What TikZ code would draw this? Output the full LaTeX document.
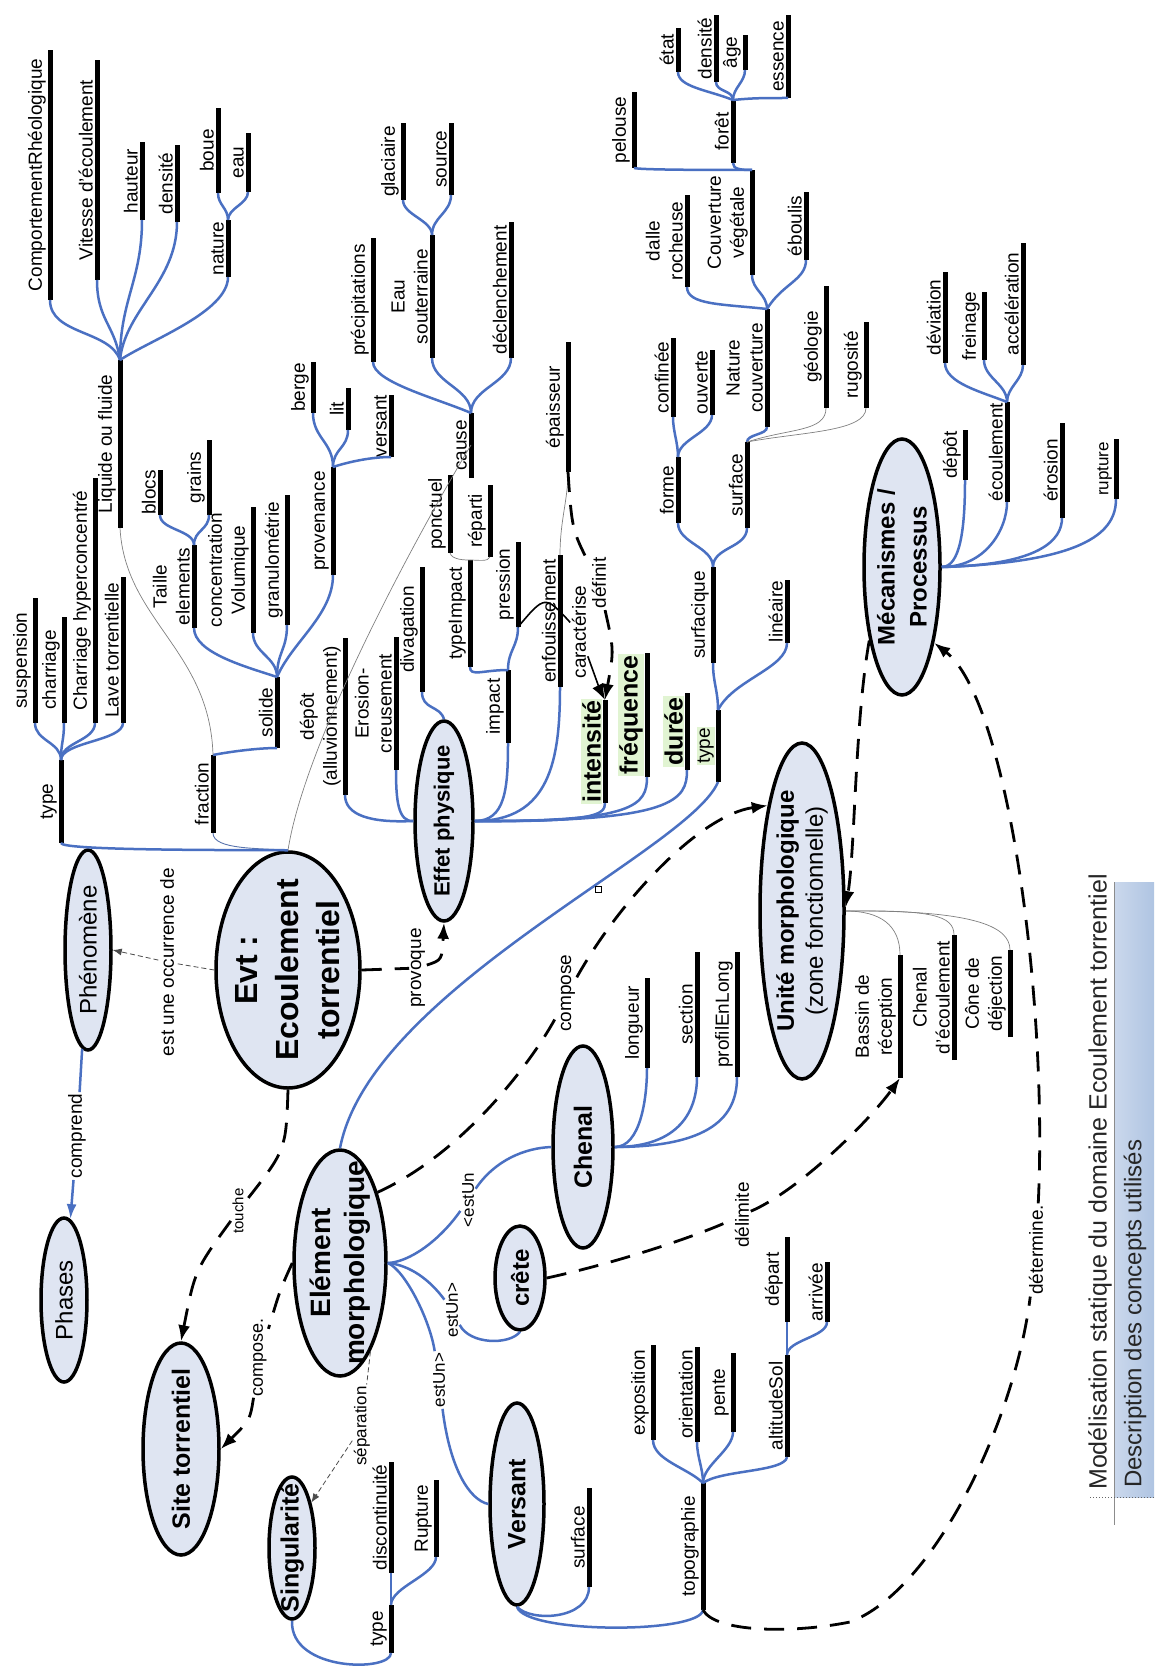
\documentclass[tikz,border=0pt]{standalone}
\usepackage{fontspec}
\setmainfont{Liberation Sans}
\usepackage{graphicx}
\usetikzlibrary{shapes.geometric,arrows.meta,calc}
\definecolor{blu}{HTML}{4A70C2}
\definecolor{nfill}{HTML}{DFE5F2}
\definecolor{gbg}{HTML}{E1F4D2}
\definecolor{boxl}{HTML}{CBD8EC}
\definecolor{boxr}{HTML}{AFC4E2}
\tikzset{
 bl/.style={draw=blu, line width=2.5pt},
 thn/.style={draw=black!50, line width=0.7pt},
 thb/.style={draw=blu!70!gray, line width=0.9pt},
 attrbar/.style={line width=5pt, draw=black},
 attrtxt/.style={rotate=90, anchor=south, inner sep=1pt, align=center, font=\fontsize{19}{23}\selectfont},
 gtxt/.style={fill=gbg, font=\bfseries\fontsize{25}{28}\selectfont},
 concept/.style={ellipse, draw=black, line width=3.5pt, fill=nfill, inner sep=0pt},
 ctext/.style={rotate=90, align=center, inner sep=0pt},
 dsh/.style={draw=black, line width=2.8pt, dash pattern=on 20pt off 13pt},
 tdsh/.style={draw=black!70, line width=0.8pt, dash pattern=on 5pt off 3pt},
 blkl/.style={draw=black, line width=1.6pt},
 arr/.style={-{Latex[length=16pt,width=12pt]}},
 sarr/.style={-{Latex[length=9pt,width=7pt]}},
 lab/.style={rotate=90, fill=white, inner sep=1.5pt, font=\fontsize{19}{22}\selectfont},
}
\newcommand\attrib[6][]{%
 \coordinate (#2-b) at (#3,#4);
 \coordinate (#2-t) at (#3,#5);
 \draw[attrbar] (#2-b) -- (#2-t);
 \node[attrtxt,#1] (#2) at ({#3-3},{(#4+#5)/2}) {#6};}
\newcommand\brc[3]{\draw[bl] (#1) .. controls ($(#1)+(0,-#3)$) and ($(#2)+(0,#3)$) .. (#2);}
\newcommand\brx[4]{\draw[bl] (#1) .. controls ($(#1)+(#3)$) and ($(#2)+(#4)$) .. (#2);}
\begin{document}
\begin{tikzpicture}[x=1pt,y=-1pt]
\useasboundingbox (0,0) rectangle (1154,1672);
\fill[white] (0,0) rectangle (1154,1672);

% ---------- concepts ----------
\node[concept, minimum width=144, minimum height=236] (evt) at (288,970) {};
\node[ctext, font=\bfseries\fontsize{32}{41}\selectfont] (evt-l) at (evt) {Evt :\\Ecoulement\\torrentiel};
\node[concept, minimum width=46, minimum height=200] (ph) at (88,950) {};
\node[ctext, font=\fontsize{24}{28}\selectfont] (ph-l) at (ph) {Phénomène};
\node[concept, minimum width=46, minimum height=164] (pa) at (64,1300) {};
\node[ctext, font=\fontsize{24}{28}\selectfont] (pa-l) at (pa) {Phases};
\node[concept, minimum width=58, minimum height=200] (ep) at (444,821) {};
\node[ctext, font=\bfseries\fontsize{22}{26}\selectfont] (ep-l) at (ep) {Effet physique};
\node[concept, minimum width=76, minimum height=256] (mp) at (902,567) {};
\node[ctext, font=\bfseries\fontsize{24}{32}\selectfont] (mp-l) at (mp) {Mécanismes /\\Processus};
\node[concept, minimum width=84, minimum height=336] (um) at (802,911) {};
\node[ctext, font=\fontsize{24}{29}\selectfont] (um-l) at (um) {\textbf{Unité morphologique}\\(zone fonctionnelle)};
\node[concept, minimum width=92, minimum height=226] (em) at (340,1263) {};
\node[ctext, font=\bfseries\fontsize{28}{34}\selectfont] (em-l) at (em) {Elément\\morphologique};
\node[concept, minimum width=60, minimum height=202] (ch) at (583,1147) {};
\node[ctext, font=\bfseries\fontsize{25}{28}\selectfont] (ch-l) at (ch) {Chenal};
\node[concept, minimum width=50, minimum height=104] (cr) at (520,1278) {};
\node[ctext, font=\bfseries\fontsize{24}{28}\selectfont] (cr-l) at (cr) {crête};
\node[concept, minimum width=54, minimum height=202] (vs) at (517,1504) {};
\node[ctext, font=\bfseries\fontsize{25}{28}\selectfont] (vs-l) at (vs) {Versant};
\node[concept, minimum width=76, minimum height=212] (st) at (181,1449) {};
\node[ctext, font=\bfseries\fontsize{25}{28}\selectfont] (st-l) at (st) {Site torrentiel};
\node[concept, minimum width=46, minimum height=142] (sg) at (292,1548) {};
\node[ctext, font=\bfseries\fontsize{25}{28}\selectfont] (sg-l) at (sg) {Singularité};

% ---------- attributes ----------
\attrib{LOF}{120}{528}{360}{Liquide ou fluide}
\attrib{CR}{50}{300}{50}{ComportementRhéologique}
\attrib{VE}{97}{280}{60}{Vitesse d'écoulement}
\attrib{HA}{142}{220}{142}{hauteur}
\attrib{DE}{177}{222}{145}{densité}
\attrib{NA}{228}{277}{220}{nature}
\attrib{BO}{218}{193}{108}{boue}
\attrib{EA}{248}{192}{133}{eau}
\attrib{TYa}{61}{843}{760}{type}
\attrib{SU}{35}{723}{598}{suspension}
\attrib{CH}{64}{723}{617}{charriage}
\attrib{CHY}{95}{723}{478}{Charriage hyperconcentré}
\attrib{LT}{123}{723}{577}{Lave torrentielle}
\attrib{FR}{213}{833}{755}{fraction}
\attrib{SO}{277}{748}{677}{solide}
\attrib{TE}{194}{628}{545}{Taille\\elements}
\attrib{BL}{160}{515}{470}{blocs}
\attrib{GR}{209}{515}{440}{grains}
\attrib{CV}{253}{633}{507}{concentration\\Volumique}
\attrib{GM}{287}{625}{495}{granulométrie}
\attrib{PR}{333}{575}{467}{provenance}
\attrib{BE}{313}{413}{362}{berge}
\attrib{LI}{348}{430}{388}{lit}
\attrib{VS}{391}{457}{395}{versant}
\attrib{CA}{471}{478}{413}{cause}
\attrib{PC}{373}{362}{238}{précipitations}
\attrib{ES}{432}{358}{235}{Eau\\souterraine}
\attrib{DC}{511}{358}{222}{déclenchement}
\attrib{GL}{403}{200}{123}{glaciaire}
\attrib{SR}{451}{195}{123}{source}
\attrib{DP}{345}{795}{638}{dépôt\\(alluvionnement)}
\attrib{ER}{396}{770}{637}{Erosion-\\creusement}
\attrib{DV}{422}{692}{567}{divagation}
\attrib{IM}{508}{743}{670}{impact}
\attrib{TI}{470}{667}{560}{typeImpact}
\attrib{PS}{518}{627}{542}{pression}
\attrib{PO}{450}{553}{475}{ponctuel}
\attrib{RE}{490}{557}{485}{réparti}
\attrib{EN}{560}{687}{555}{enfouissement}
\attrib{EP}{568}{472}{342}{épaisseur}
\attrib[gtxt]{IN}{605}{803}{700}{intensité}
\attrib[gtxt]{FQ}{647}{777}{653}{fréquence}
\attrib[gtxt]{DU}{687}{770}{693}{durée}
\attrib{MD}{965}{480}{430}{dépôt}
\attrib{MEC}{1007}{502}{402}{écoulement}
\attrib{MER}{1062}{518}{423}{érosion}
\attrib[font=\fontsize{17}{20}\selectfont]{MRU}{1116}{499}{439}{rupture}
\attrib{MDV}{945}{363}{272}{déviation}
\attrib{MFR}{984}{360}{292}{freinage}
\attrib{MAC}{1023}{365}{243}{accélération}
\attrib[fill=gbg]{TYb}{718}{782}{710}{type}
\attrib{SF}{713}{663}{567}{surfacique}
\attrib{LN}{787}{643}{580}{linéaire}
\attrib{FO}{678}{523}{457}{forme}
\attrib{SUa}{747}{528}{442}{surface}
\attrib{CF}{673}{417}{338}{confinée}
\attrib{OU}{712}{415}{350}{ouverte}
\attrib{NC}{767}{427}{309}{Nature\\couverture}
\attrib{DR}{687}{287}{195}{dalle\\rocheuse}
\attrib{CVG}{752}{275}{170}{Couverture\\végétale}
\attrib{EB}{806}{260}{192}{éboulis}
\attrib{GEO}{826}{408}{286}{géologie}
\attrib{RUG}{866}{408}{322}{rugosité}
\attrib{PE}{634}{168}{92}{pelouse}
\attrib{FOR}{733}{163}{100}{forêt}
\attrib{ET}{678}{72}{28}{état}
\attrib{DNb}{716}{82}{15}{densité}
\attrib{AG}{745}{70}{35}{âge}
\attrib{ESS}{788}{98}{15}{essence}
\attrib{LG}{647}{1068}{978}{longueur}
\attrib{SE}{697}{1077}{952}{section}
\attrib{PL}{737}{1077}{952}{profilEnLong}
\attrib{BR}{900}{1078}{955}{Bassin de\\réception}
\attrib{CE}{954}{1060}{935}{Chenal\\d'écoulement}
\attrib{CD}{1010}{1037}{950}{Cône de\\déjection}
\attrib{VSU}{589}{1587}{1488}{surface}
\attrib{TO}{703}{1610}{1483}{topographie}
\attrib{EX}{653}{1440}{1345}{exposition}
\attrib{OR}{697}{1442}{1347}{orientation}
\attrib{PN}{733}{1432}{1353}{pente}
\attrib{AS}{787}{1457}{1355}{altitudeSol}
\attrib{DEP}{787}{1322}{1237}{départ}
\attrib{AR}{827}{1322}{1262}{arrivée}
\attrib{SGT}{391}{1653}{1605}{type}
\attrib{DI}{391}{1573}{1462}{discontinuité}
\attrib{RU}{436}{1557}{1480}{Rupture}

% ---------- attribute connectors ----------
\brx{LOF-t}{CR-b}{-10,-30}{0,35}
\brx{LOF-t}{VE-b}{-5,-35}{0,40}
\brx{LOF-t}{HA-b}{0,-60}{0,60}
\brx{LOF-t}{DE-b}{5,-50}{0,60}
\brx{LOF-t}{NA-b}{30,-20}{0,35}
\brc{NA-t}{BO-b}{12}
\brc{NA-t}{EA-b}{12}
\brc{TYa-t}{SU-b}{18}
\brc{TYa-t}{CH-b}{18}
\brc{TYa-t}{CHY-b}{18}
\brc{TYa-t}{LT-b}{18}
\brx{SO-t}{TE-b}{-30,-10}{0,25}
\brc{SO-t}{CV-b}{20}
\brc{SO-t}{GM-b}{25}
\brx{SO-t}{PR-b}{15,-35}{0,40}
\brc{TE-t}{BL-b}{15}
\brc{TE-t}{GR-b}{15}
\brc{PR-t}{BE-b}{25}
\brc{PR-t}{LI-b}{18}
\brx{PR-t}{VS-b}{15,-5}{-20,0}
\brx{FR-t}{SO-b}{15,-3}{-20,0}
\draw[thn] (LOF-b) .. controls (125,620) and (210,650) .. (FR-t);
\draw[thb] (FR-b) .. controls (213,850) and (260,848) .. (evt.north);
\draw[bl] (TYa-b) .. controls (61,850) and (200,850) .. (evt.north);
\brx{CA-t}{PC-b}{-35,-15}{0,20}
\brc{CA-t}{ES-b}{25}
\brc{CA-t}{DC-b}{25}
\brc{ES-t}{GL-b}{15}
\brc{ES-t}{SR-b}{18}
\coordinate (CAm) at (471,445);
\draw[thn] (CAm) .. controls (420,530) and (305,740) .. (evt.north);

\draw[bl] (ep.west) .. controls (370,823) and (345,815) .. (DP-b);
\draw[bl] (ep.west) .. controls (398,822) and (396,800) .. (ER-b);
\draw[bl] (DV-b) .. controls (422,710) and (440,705) .. (ep.north);
\draw[bl] (ep.east) .. controls (505,821) and (508,790) .. (IM-b);
\draw[bl] (ep.east) .. controls (550,821) and (560,760) .. (EN-b);
\draw[bl] (ep.east) .. controls (595,822) and (605,815) .. (IN-b);
\draw[bl] (ep.east) .. controls (635,822) and (647,805) .. (FQ-b);
\draw[bl] (ep.east) .. controls (675,822) and (687,800) .. (DU-b);
\brx{IM-t}{TI-b}{-25,0}{0,10}
\brc{IM-t}{PS-b}{20}
\draw[thn] (PO-b) .. controls (452,560) and (465,560) .. (TI-t);
\draw[thn] (TI-t) .. controls (478,560) and (488,562) .. (RE-b);
\draw[thn] (EN-t) .. controls (560,520) and (568,500) .. (EP-b);

\draw[bl] (mp.east) .. controls (960,567) and (965,530) .. (MD-b);
\draw[bl] (mp.east) .. controls (985,567) and (1007,530) .. (MEC-b);
\draw[bl] (mp.east) .. controls (1040,565) and (1062,540) .. (MER-b);
\draw[bl] (mp.east) .. controls (1090,562) and (1116,530) .. (MRU-b);
\brx{MEC-t}{MDV-b}{-25,-10}{0,20}
\brc{MEC-t}{MFR-b}{18}
\brc{MEC-t}{MAC-b}{15}

\brc{TYb-t}{SF-b}{20}
\brx{TYb-t}{LN-b}{15,-30}{0,25}
\brc{SF-t}{FO-b}{20}
\brc{SF-t}{SUa-b}{20}
\brc{FO-t}{CF-b}{15}
\brc{FO-t}{OU-b}{18}
\brc{SUa-t}{NC-b}{8}
\draw[thn] (SUa-t) .. controls (790,428) and (826,432) .. (GEO-b);
\draw[thn] (SUa-t) .. controls (800,432) and (866,432) .. (RUG-b);
\brx{NC-t}{DR-b}{-45,-5}{0,18}
\brc{NC-t}{CVG-b}{15}
\brx{NC-t}{EB-b}{15,-25}{0,20}
\draw[bl] (PE-b) .. controls (640,170) and (720,170) .. (CVG-t);
\brx{FOR-b}{CVG-t}{0,6}{-12,0}
\brx{FOR-t}{ET-b}{-25,-10}{0,15}
\brc{FOR-t}{DNb-b}{10}
\brc{FOR-t}{AG-b}{12}
\brx{FOR-t}{ESS-b}{20,-2}{-25,0}
\draw[bl] (TYb-b) .. controls (690,850) and (370,990) .. (em.north);
\node[draw, line width=0.8pt, minimum size=6pt, inner sep=0pt] (sq) at (598,889) {};

\draw[bl] (ch.east) .. controls (640,1147) and (647,1100) .. (LG-b);
\draw[bl] (ch.east) .. controls (680,1147) and (697,1110) .. (SE-b);
\draw[bl] (ch.east) .. controls (720,1147) and (737,1110) .. (PL-b);

\draw[thn] (um.east) .. controls (880,911) and (900,925) .. (BR-t);
\draw[thn] (um.east) .. controls (930,910) and (954,915) .. (CE-t);
\draw[thn] (um.east) .. controls (970,910) and (1010,925) .. (CD-t);

\draw[bl] (vs.south) .. controls (525,1634) and (700,1634) .. (TO-b);
\draw[bl] (vs.south) .. controls (530,1622) and (589,1620) .. (VSU-b);
\brx{TO-t}{EX-b}{-15,-15}{0,20}
\brc{TO-t}{OR-b}{15}
\brc{TO-t}{PN-b}{18}
\draw[bl] (TO-t) .. controls (720,1470) and (785,1472) .. (AS-b);
\draw[bl] (AS-t) -- (DEP-b);
\brc{AS-t}{AR-b}{15}

\draw[bl] (sg.south) .. controls (290,1672) and (391,1672) .. (SGT-b);
\draw[bl] (SGT-t) -- (DI-b);
\brc{SGT-t}{RU-b}{18}

% ---------- labelled relations ----------
\node[lab, font=\fontsize{17}{20}\selectfont] (lE1) at (468,1200) {<estUn};
\node[lab, font=\fontsize{17}{20}\selectfont] (lE2) at (452,1310) {estUn>};
\node[lab, font=\fontsize{17}{20}\selectfont] (lE3) at (439,1380) {estUn>};
\draw[bl] (em.east) .. controls (410,1262) and (440,1240) .. (lE1);
\draw[bl] (lE1) .. controls (495,1160) and (525,1148) .. (ch.west);
\draw[bl] (em.east) .. controls (410,1265) and (430,1280) .. (lE2);
\draw[bl] (lE2) .. controls (470,1345) and (510,1345) .. (cr.south);
\draw[bl] (em.east) .. controls (405,1270) and (430,1320) .. (lE3);
\draw[bl] (lE3) .. controls (450,1470) and (470,1500) .. (vs.west);

\node[lab] (lCP) at (77,1136) {comprend};
\draw[bl] (ph) -- (lCP);
\draw[bl, -{Latex[length=15pt,width=10pt]}] (lCP) -- (pa);

\node[lab] (lOC) at (167,962) {est une occurrence de};
\draw[tdsh] (evt.west) -- (lOC);
\draw[tdsh, sarr] (lOC) -- (ph.east);

\node[lab] (lPV) at (418,968) {provoque};
\draw[dsh] (evt.east) -- (lPV);
\draw[dsh, arr] (lPV) .. controls (442,960) .. (ep.south);

\node[lab, font=\fontsize{15}{18}\selectfont] (lTO) at (238,1211) {touche};
\draw[dsh] (evt.south) .. controls (286,1150) .. (lTO);
\draw[dsh, arr] (lTO) .. controls (195,1270) .. (st.north);

\node[lab, font=\fontsize{18}{21}\selectfont] (lCS) at (260,1357) {compose.};
\draw[dsh] (em.west) .. controls (280,1290) .. (lCS);
\draw[dsh, arr] (lCS) .. controls (250,1420) .. (st.east);

\node[lab, font=\fontsize{17}{20}\selectfont] (lSP) at (362,1426) {séparation};
\draw[tdsh] (em.289) -- (lSP);
\draw[tdsh, sarr] (lSP) -- (sg.67);

\node[lab] (lCO) at (568,993) {compose};
\draw[dsh] (em.62) .. controls (470,1150) and (540,1050) .. (lCO);
\draw[dsh, arr] (lCO) .. controls (620,900) and (700,815) .. (um.108);

\draw[dsh, arr] (mp.246) .. controls (855,720) and (855,850) .. (um.5);

\node[lab] (lDT) at (1036,1250) {détermine.};
\draw[dsh] (TO-b) .. controls (715,1632) and (790,1634) .. (850,1622) .. controls (935,1590) and (1015,1420) .. (lDT);
\draw[dsh, arr] (lDT) .. controls (1048,1000) and (1008,700) .. (mp.293);

\node[lab] (lDL) at (742,1215) {délimite};
\draw[dsh] (cr.east) .. controls (620,1262) and (700,1235) .. (lDL);
\draw[dsh, arr] (lDL) .. controls (800,1190) and (870,1120) .. (BR-b);

\node[lab] (lDF) at (599,583) {définit};
\node[lab] (lCA) at (579,632) {caractérise};
\draw[dsh] (EP-b) .. controls (572,530) .. (lDF);
\draw[dsh, arr] (lDF) .. controls (614,650) .. (IN-t);
\draw[blkl] (PS-b) .. controls (545,595) .. (lCA);
\draw[blkl, arr] (lCA) .. controls (600,690) .. (IN-t);

% ---------- title and box ----------
\shade[left color=boxl, right color=boxr] (1114,882) rectangle (1154,1497);
\draw[black!45, line width=1pt] (1114,882) -- (1114,1525);
\draw[black!60, dotted, line width=1pt] (1090,1497) -- (1154,1497);
\node[rotate=90, anchor=west, inner sep=0pt, font=\fontsize{25}{28}\selectfont, text=black!85] (title) at (1100,1490) {Modélisation statique du domaine Ecoulement torrentiel};
\node[rotate=90, anchor=west, inner sep=0pt, font=\fontsize{24}{27}\selectfont, text=black!85] (desc) at (1135,1488) {Description des concepts utilisés};
\end{tikzpicture}
\end{document}
